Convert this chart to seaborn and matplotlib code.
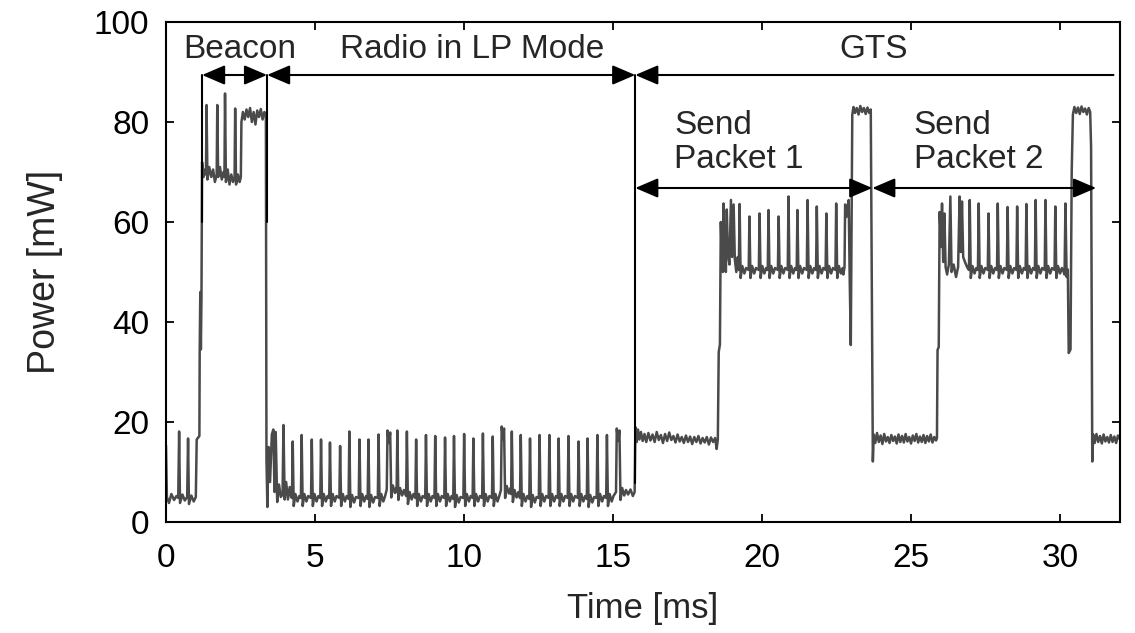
import matplotlib
matplotlib.use("Agg")
import matplotlib.pyplot as plt
import pandas as pd
import seaborn as sns

# ---------------- trace read off the scope capture ----------------
# every entry is (time [ms], power [mW])

pre_beacon = [
    (0.00, 15.3), (0.03, 5.0), (0.10, 3.8), (0.18, 5.6), (0.27, 4.4),
    (0.35, 5.2), (0.41, 4.8), (0.44, 18.1), (0.47, 3.8), (0.55, 5.5),
    (0.63, 4.3), (0.71, 5.0), (0.74, 16.7), (0.77, 3.6), (0.85, 5.3),
    (0.93, 4.1), (1.00, 5.0), (1.03, 16.5), (1.12, 17.2), (1.13, 34.0),
    (1.15, 46.0), (1.17, 34.5), (1.19, 45.0),
]

beacon = [
    (1.21, 72.0), (1.26, 69.0), (1.31, 70.5), (1.34, 69.5), (1.36, 83.4),
    (1.39, 68.5), (1.45, 71.0), (1.52, 69.0), (1.58, 70.5), (1.64, 68.0),
    (1.70, 69.5), (1.72, 83.4), (1.75, 69.0), (1.81, 71.0), (1.87, 68.5),
    (1.93, 70.0), (1.96, 69.0), (1.98, 85.7), (2.01, 68.0), (2.07, 70.5),
    (2.13, 67.5), (2.19, 69.5), (2.25, 68.0), (2.30, 69.0), (2.32, 82.7),
    (2.35, 67.5), (2.41, 69.5), (2.47, 68.0), (2.51, 69.0), (2.53, 80.0),
    (2.58, 82.0), (2.64, 80.5), (2.70, 82.5), (2.76, 81.0), (2.82, 82.8),
    (2.88, 80.0), (2.94, 82.0), (3.00, 79.5), (3.06, 82.3), (3.12, 81.0),
    (3.18, 82.6), (3.24, 80.5), (3.30, 82.0), (3.35, 81.5),
]

lp_wakeup = [
    (3.37, 12.5), (3.40, 3.0), (3.44, 15.0), (3.49, 8.0), (3.55, 17.5),
    (3.60, 18.5), (3.64, 6.0), (3.68, 18.0), (3.73, 4.0), (3.79, 7.5),
    (3.85, 5.0), (3.91, 5.5), (3.94, 19.4), (3.98, 4.5), (4.03, 8.0),
    (4.09, 4.5), (4.15, 7.0), (4.20, 5.0),
]

# radio in low-power mode: (spike start, spike end, peak, floor)
lp_spikes = [
    (4.25, 4.25, 16.1, 4.8), (4.55, 4.55, 17.4, 4.8), (4.89, 4.89, 16.5, 4.8),
    (5.20, 5.20, 16.5, 4.8), (5.50, 5.50, 15.9, 4.8), (5.84, 5.84, 15.2, 4.8),
    (6.15, 6.15, 18.1, 4.6), (6.49, 6.49, 16.5, 4.8), (6.79, 6.79, 16.5, 4.6),
    (7.13, 7.13, 17.5, 4.8), (7.43, 7.52, 18.3, 6.5), (7.76, 7.76, 18.3, 6.0),
    (8.08, 8.08, 18.1, 5.2), (8.39, 8.39, 16.5, 4.8), (8.72, 8.72, 17.4, 4.8),
    (9.03, 9.03, 17.2, 4.8), (9.36, 9.36, 16.9, 4.8), (9.66, 9.66, 17.2, 4.6),
    (10.00, 10.00, 17.6, 4.8), (10.31, 10.31, 16.7, 4.8), (10.63, 10.63, 17.7, 4.8),
    (10.96, 10.96, 17.1, 4.8), (11.26, 11.34, 19.1, 6.4), (11.60, 11.60, 18.1, 5.6),
    (11.90, 11.90, 17.4, 4.8), (12.21, 12.21, 16.7, 4.6), (12.53, 12.53, 17.4, 4.8),
    (12.86, 12.86, 17.4, 4.8), (13.17, 13.17, 16.7, 4.8), (13.50, 13.50, 17.2, 4.8),
    (13.84, 13.84, 16.1, 4.8), (14.14, 14.14, 16.7, 4.6), (14.47, 14.47, 17.4, 4.8),
    (14.79, 14.79, 17.4, 4.8), (15.12, 15.21, 18.7, 6.0),
]

lp_tail = [(15.50, 5.5), (15.58, 6.5), (15.66, 5.2), (15.72, 6.0)]

gts_idle_1 = [
    (15.745, 19.0), (15.79, 16.0), (15.83, 18.5), (15.88, 16.5), (15.93, 18.0),
    (15.99, 16.2), (16.05, 17.6), (16.11, 16.0), (16.18, 17.8), (16.25, 16.3),
    (16.32, 17.5), (16.39, 16.0), (16.46, 18.0), (16.53, 16.4), (16.60, 17.4),
    (16.67, 15.8), (16.74, 17.6), (16.81, 16.2), (16.88, 17.9), (16.95, 16.4),
    (17.02, 17.2), (17.09, 15.9), (17.16, 17.5), (17.23, 16.1), (17.30, 17.0),
    (17.37, 15.8), (17.44, 17.3), (17.51, 16.0), (17.58, 17.1), (17.65, 15.6),
    (17.72, 17.0), (17.79, 16.0), (17.86, 17.2), (17.93, 15.7), (18.00, 16.8),
    (18.07, 15.9), (18.14, 17.0), (18.21, 15.5), (18.28, 16.9), (18.35, 16.0),
    (18.42, 16.8), (18.47, 14.6), (18.51, 16.5),
]

tx1_head = [
    (18.54, 34.0), (18.58, 35.5), (18.61, 60.0), (18.65, 52.0), (18.68, 50.0),
    (18.70, 63.7), (18.74, 52.5), (18.78, 50.0), (18.81, 62.5), (18.85, 53.5),
    (18.90, 51.5), (18.95, 64.4), (18.99, 53.0), (19.04, 63.5), (19.08, 52.5),
    (19.13, 50.0), (19.18, 53.0),
]

# send packet 1: (spike time, peak), floor around 50 mW
tx1_spikes = [
    (19.24, 63.6), (19.57, 61.1), (19.91, 61.7), (20.21, 62.4), (20.55, 61.1),
    (20.88, 65.1), (21.18, 62.4), (21.52, 64.4), (21.83, 63.1), (22.15, 61.7),
    (22.48, 63.7),
]
tx_floor = 50.4

tx1_tail = [
    (22.72, 49.5), (22.76, 51.0), (22.78, 63.5), (22.82, 61.0), (22.86, 63.0),
    (22.90, 64.4), (22.93, 50.0), (22.97, 35.4), (23.00, 62.0), (23.02, 81.5),
    (23.06, 83.0), (23.11, 81.8), (23.17, 82.8), (23.23, 81.5), (23.29, 83.2),
    (23.35, 82.0), (23.41, 82.8), (23.47, 81.6), (23.53, 82.9), (23.59, 81.8),
    (23.64, 82.5),
]

gts_idle_2 = [
    (23.71, 12.1), (23.74, 17.5), (23.79, 15.8), (23.85, 17.8), (23.91, 16.0),
    (23.97, 17.3), (24.03, 15.6), (24.09, 17.6), (24.15, 16.1), (24.21, 17.0),
    (24.27, 15.8), (24.33, 17.4), (24.39, 16.2), (24.45, 17.1), (24.51, 15.7),
    (24.57, 17.5), (24.63, 16.0), (24.69, 17.2), (24.75, 15.9), (24.81, 17.6),
    (24.87, 16.1), (24.93, 17.0), (24.99, 15.7), (25.05, 17.3), (25.11, 16.2),
    (25.17, 17.6), (25.23, 15.9), (25.29, 17.1), (25.35, 16.0), (25.41, 17.4),
    (25.47, 15.8), (25.53, 17.2), (25.59, 16.1), (25.65, 17.5), (25.71, 15.9),
    (25.77, 17.0), (25.83, 16.3), (25.86, 16.8),
]

tx2_head = [
    (25.88, 34.4), (25.92, 35.0), (25.95, 62.0), (26.00, 55.0), (26.03, 63.7),
    (26.07, 52.0), (26.11, 61.7), (26.15, 51.0), (26.20, 49.5), (26.26, 51.5),
    (26.31, 65.1), (26.35, 50.0), (26.42, 51.5), (26.50, 49.0), (26.57, 51.0),
    (26.62, 65.1), (26.66, 54.0), (26.70, 64.1), (26.74, 53.0), (26.80, 52.0),
    (26.87, 51.0),
]

# send packet 2: (spike time, peak)
tx2_spikes = [
    (26.96, 64.4), (27.26, 63.7), (27.59, 61.7), (27.90, 63.7), (28.23, 63.0),
    (28.55, 63.1), (28.86, 63.6), (29.17, 64.4), (29.50, 64.4), (29.83, 63.1),
]

tx2_tail = [
    (30.08, 50.5), (30.14, 49.5), (30.17, 63.7), (30.21, 49.0), (30.25, 50.5),
    (30.28, 33.8), (30.34, 34.5), (30.38, 70.0), (30.42, 81.5), (30.47, 83.0),
    (30.53, 81.8), (30.59, 82.9), (30.65, 81.6), (30.71, 83.1), (30.77, 82.0),
    (30.83, 82.7), (30.89, 81.5), (30.95, 82.8), (31.00, 82.0), (31.03, 75.0),
]

gts_idle_3 = [
    (31.07, 12.1), (31.10, 17.5), (31.15, 15.8), (31.21, 17.6), (31.27, 16.0),
    (31.33, 17.2), (31.39, 15.7), (31.45, 17.5), (31.51, 16.1), (31.57, 17.0),
    (31.63, 15.9), (31.69, 17.4), (31.75, 16.0), (31.81, 17.1), (31.87, 15.8),
    (31.93, 17.3), (32.00, 16.5),
]

# phase boundaries [ms] and labels
beacon_start, beacon_end = 1.21, 3.39
gts_start, tx1_end, tx2_end, gts_end = 15.74, 23.69, 31.2, 31.78
phase_labels = ["Beacon", "Radio in LP Mode", "GTS"]
send_labels = [("Send", "Packet 1"), ("Send", "Packet 2")]

x_ticks = [0, 5, 10, 15, 20, 25, 30]
y_ticks = [0, 20, 40, 60, 80, 100]


def spike(t0, t1, peak, floor):
    # narrow pulse: sharp rise, short undershoot, back to the floor
    pts = [(t0 - 0.025, floor), (t0, peak)]
    if t1 > t0:
        pts += [((t0 + t1) / 2, peak - 2.5), (t1, peak - 0.4)]
    pts += [(t1 + 0.035, floor - 1.6), (t1 + 0.09, floor + 0.8),
            (t1 + 0.16, floor - 0.7), (t1 + 0.22, floor + 0.4)]
    return pts


points = pre_beacon + beacon + lp_wakeup
for t0, t1, pk, fl in lp_spikes:
    points += spike(t0, t1, pk, fl)
points += lp_tail + gts_idle_1 + tx1_head
for t, pk in tx1_spikes:
    points += spike(t, t, pk, tx_floor)
points += tx1_tail + gts_idle_2 + tx2_head
for t, pk in tx2_spikes:
    points += spike(t, t, pk, tx_floor)
points += tx2_tail + gts_idle_3

trace = pd.DataFrame(points, columns=["time", "power"])

# ---------------- plot ----------------
sns.set_style("ticks")
plt.rcParams["font.family"] = ["Liberation Sans", "DejaVu Sans"]

fig = plt.figure(figsize=(11.35, 6.33), dpi=100)
ax = fig.add_axes([166 / 1135, 1 - 522 / 633, 954 / 1135, 500 / 633])

sns.lineplot(data=trace, x="time", y="power", sort=False, estimator=None,
             color="#4a4a4a", linewidth=1.8, ax=ax)

ax.set_xlim(0, 32)
ax.set_ylim(0, 100)
ax.set_xticks(x_ticks)
ax.set_yticks(y_ticks)
ax.tick_params(direction="in", length=6, width=1.3, top=True, right=True,
               labelsize=24, colors="black")
ax.tick_params(axis="x", pad=15)
ax.tick_params(axis="y", pad=12)
for s in ax.spines.values():
    s.set_linewidth(1.5)
    s.set_color("black")

ax.set_xlabel("Time [ms]", fontsize=25, labelpad=13)
ax.set_ylabel("Power [mW]", fontsize=27, labelpad=22)

# phase markers
top_y, tx_y = 89.4, 66.8
ax.plot([beacon_start, beacon_start], [60, top_y], color="black", lw=1.5)
ax.plot([beacon_end, beacon_end], [60, top_y], color="black", lw=1.5)
ax.plot([gts_start, gts_start], [7.8, top_y], color="black", lw=1.5)


def arrow(x0, x1, y, style="<|-|>"):
    ax.annotate("", xy=(x1, y), xytext=(x0, y),
                arrowprops=dict(arrowstyle=style + ",head_length=0.7,head_width=0.3",
                                color="black", lw=1.5, shrinkA=0, shrinkB=0,
                                mutation_scale=20))


arrow(beacon_start, beacon_end, top_y)
arrow(beacon_end, gts_start, top_y)
arrow(gts_start, gts_end, top_y, style="<|-")
arrow(gts_start, tx1_end, tx_y)
arrow(tx1_end, tx2_end, tx_y)

label_y = 92.9
ax.text(2.48, label_y, phase_labels[0], ha="center", va="baseline", fontsize=24)
ax.text(10.27, label_y, phase_labels[1], ha="center", va="baseline", fontsize=24)
ax.text(23.72, label_y, phase_labels[2], ha="center", va="baseline", fontsize=24)

for x, (l1, l2) in zip([17.05, 25.08], send_labels):
    ax.text(x, 77.7, l1, ha="left", va="baseline", fontsize=24)
    ax.text(x, 70.9, l2, ha="left", va="baseline", fontsize=24)

fig.savefig("out.png", dpi=100)
